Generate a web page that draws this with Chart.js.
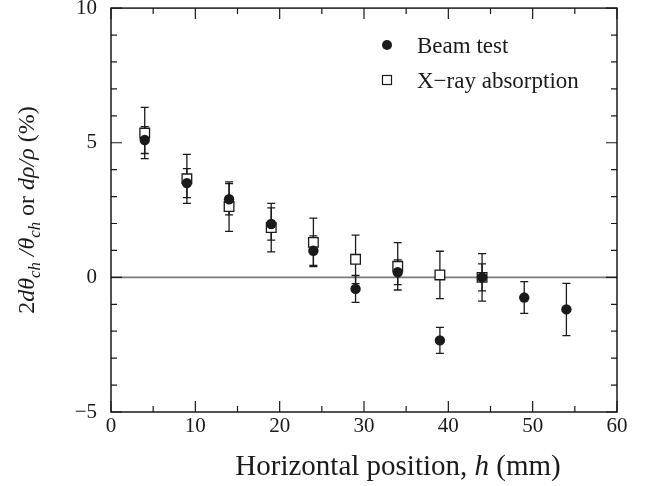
<!DOCTYPE html>
<html>
<head>
<meta charset="utf-8">
<script src="https://cdn.jsdelivr.net/npm/chart.js@4.4.1/dist/chart.umd.min.js"></script>
<style>
  html, body { margin: 0; padding: 0; background: #fff; }
  #wrap { width: 645px; height: 486px; }
</style>
</head>
<body>
<div id="wrap"><canvas id="chart"></canvas></div>
<script>
// === Data ===
const beamPositions = [4, 9, 14, 19, 24, 29, 34, 39, 44, 49, 54];
const beamValues    = [5.10, 3.50, 2.90, 1.98, 0.99, -0.43, 0.19, -2.34, 0.00, -0.75, -1.19];
const beamErrors    = [0.50, 0.54, 0.58, 0.60, 0.55, 0.50, 0.46, 0.48, 0.50, 0.59, 0.97];

const xrayPositions = [4, 9, 14, 19, 24, 29, 34, 39, 44];
const xrayValues    = [5.36, 3.66, 2.63, 1.85, 1.30, 0.67, 0.41, 0.09, 0.00];
const xrayErrors    = [0.95, 0.91, 0.92, 0.90, 0.90, 0.90, 0.88, 0.88, 0.88];

const xTickLabels = [0, 10, 20, 30, 40, 50, 60];
const yTickLabels = [-5, 0, 5, 10];

const FONT = '"Liberation Serif", "DejaVu Serif", serif';

function points(xs, ys, errs) {
  return xs.map((x, i) => ({ x: x, y: ys[i], err: errs[i] }));
}

// zero line, frame, inward ticks, error bars, titles, legend
const figurePlugin = {
  id: 'figure',
  beforeDatasetsDraw(chart) {
    const { ctx, chartArea: a } = chart;
    const xs = chart.scales.x, ys = chart.scales.y;
    ctx.save();
    // zero line
    ctx.strokeStyle = '#7a7a7a';
    ctx.lineWidth = 1.6;
    const y0 = ys.getPixelForValue(0);
    ctx.beginPath();
    ctx.moveTo(a.left, y0);
    ctx.lineTo(a.right, y0);
    ctx.stroke();

    // error bars
    ctx.strokeStyle = '#1a1a1a';
    ctx.lineWidth = 1.3;
    chart.data.datasets.forEach(ds => {
      ds.data.forEach(p => {
        const x = xs.getPixelForValue(p.x);
        const top = ys.getPixelForValue(p.y + p.err);
        const bot = ys.getPixelForValue(p.y - p.err);
        ctx.beginPath();
        ctx.moveTo(x, top); ctx.lineTo(x, bot);
        ctx.moveTo(x - 4, top); ctx.lineTo(x + 4, top);
        ctx.moveTo(x - 4, bot); ctx.lineTo(x + 4, bot);
        ctx.stroke();
      });
    });
    ctx.restore();
  },
  afterDraw(chart) {
    const { ctx, chartArea: a } = chart;
    const xs = chart.scales.x, ys = chart.scales.y;
    ctx.save();
    ctx.strokeStyle = '#1a1a1a';
    ctx.lineWidth = 1.5;
    ctx.strokeRect(a.left, a.top, a.right - a.left, a.bottom - a.top);

    ctx.lineWidth = 1.2;
    ctx.beginPath();
    for (let v = 0; v <= 60; v += 5) {
      const x = xs.getPixelForValue(v);
      const len = v % 10 === 0 ? 11 : 6;
      ctx.moveTo(x, a.bottom); ctx.lineTo(x, a.bottom - len);
      ctx.moveTo(x, a.top); ctx.lineTo(x, a.top + len);
    }
    for (let v = -5; v <= 10; v += 1) {
      const y = ys.getPixelForValue(v);
      const len = v % 5 === 0 ? 11 : 6;
      ctx.moveTo(a.left, y); ctx.lineTo(a.left + len, y);
      ctx.moveTo(a.right, y); ctx.lineTo(a.right - len, y);
    }
    ctx.stroke();

    // x title
    ctx.fillStyle = '#1a1a1a';
    ctx.textBaseline = 'alphabetic';
    drawRich(ctx, [
      { t: 'Horizontal position, ' },
      { t: 'h', i: true },
      { t: ' (mm)' }
    ], 398, 475, 29);

    // y title
    ctx.save();
    ctx.translate(34, (a.top + a.bottom) / 2);
    ctx.rotate(-Math.PI / 2);
    drawRich(ctx, [
      { t: '2' },
      { t: 'd\u03b8', i: true },
      { t: 'ch', i: true, sub: true },
      { t: ' /' , i: true },
      { t: '\u03b8', i: true },
      { t: 'ch', i: true, sub: true },
      { t: ' or ' },
      { t: 'd\u03c1/\u03c1', i: true },
      { t: ' (%)' }
    ], 0, 0, 24);
    ctx.restore();

    // legend
    const lx = 387, ly = [45, 80];
    ctx.fillStyle = '#1a1a1a';
    ctx.beginPath();
    ctx.arc(lx, ly[0], 5, 0, Math.PI * 2);
    ctx.fill();
    ctx.fillStyle = '#fff';
    ctx.lineWidth = 1.2;
    ctx.fillRect(lx - 4.5, ly[1] - 4.5, 9, 9);
    ctx.strokeRect(lx - 4.5, ly[1] - 4.5, 9, 9);
    ctx.fillStyle = '#1a1a1a';
    ctx.font = '23px ' + FONT;
    ctx.textAlign = 'left';
    ctx.textBaseline = 'alphabetic';
    ctx.fillText(chart.data.datasets[0].label, 417, ly[0] + 8);
    ctx.fillText(chart.data.datasets[1].label, 417, ly[1] + 8);
    ctx.restore();
  }
};

function drawRich(ctx, parts, cx, y, size) {
  const fontFor = p => (p.i ? 'italic ' : '') + (p.sub ? size * 0.7 : size) + 'px ' + FONT;
  let total = 0;
  parts.forEach(p => { ctx.font = fontFor(p); total += ctx.measureText(p.t).width; });
  let x = cx - total / 2;
  ctx.textAlign = 'left';
  parts.forEach(p => {
    ctx.font = fontFor(p);
    ctx.fillText(p.t, x, p.sub ? y + size * 0.25 : y);
    x += ctx.measureText(p.t).width;
  });
}

new Chart(document.getElementById('chart'), {
  type: 'scatter',
  data: {
    datasets: [
      {
        label: 'Beam test',
        data: points(beamPositions, beamValues, beamErrors),
        pointStyle: 'circle',
        pointRadius: 5.2,
        backgroundColor: '#1a1a1a',
        borderColor: '#1a1a1a',
        borderWidth: 0
      },
      {
        label: 'X\u2212ray absorption',
        data: points(xrayPositions, xrayValues, xrayErrors),
        pointStyle: 'rect',
        pointRadius: 6.8,
        backgroundColor: '#fff',
        borderColor: '#1a1a1a',
        borderWidth: 1.3
      }
    ]
  },
  options: {
    responsive: true,
    maintainAspectRatio: false,
    animation: false,
    layout: { padding: { top: 7, right: 28, left: 0, bottom: 0 } },
    plugins: {
      legend: { display: false },
      tooltip: { enabled: false }
    },
    scales: {
      x: {
        type: 'linear',
        min: 0, max: 60,
        afterBuildTicks: s => { s.ticks = xTickLabels.map(v => ({ value: v })); },
        afterFit: s => { s.height = 74; s.paddingLeft = 0; s.paddingRight = 0; },
        grid: { display: false, drawTicks: false },
        border: { display: false },
        ticks: {
          padding: 2,
          color: '#1a1a1a',
          font: { family: FONT, size: 21 },
          maxRotation: 0
        }
      },
      y: {
        type: 'linear',
        min: -5, max: 10,
        afterBuildTicks: s => { s.ticks = yTickLabels.map(v => ({ value: v })); },
        afterFit: s => { s.width = 111; s.paddingTop = 0; s.paddingBottom = 0; },
        grid: { display: false, drawTicks: false },
        border: { display: false },
        ticks: {
          padding: 14,
          color: '#1a1a1a',
          font: { family: FONT, size: 21 },
          callback: v => String(v).replace('-', '\u2212')
        }
      }
    }
  },
  plugins: [figurePlugin]
});
</script>
</body>
</html>
